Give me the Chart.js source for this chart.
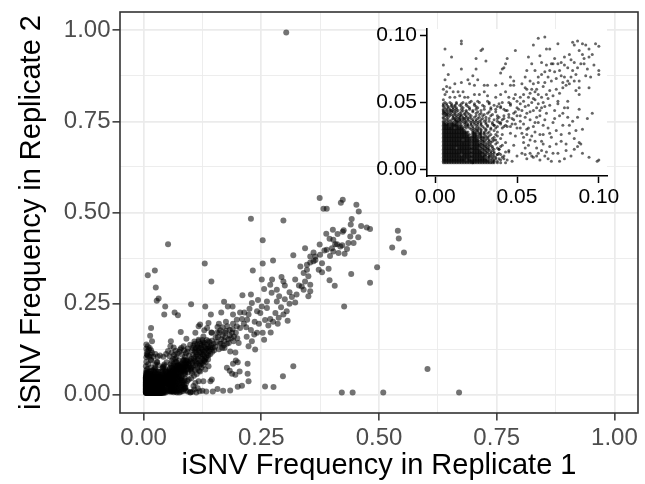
<!DOCTYPE html>
<html><head><meta charset="utf-8">
<script src="https://cdn.jsdelivr.net/npm/chart.js@4.4.1/dist/chart.umd.min.js"></script>
<style>
html,body{margin:0;padding:0;background:#fff;}
#wrap{position:relative;width:645px;height:484px;overflow:hidden;}
#main{position:absolute;left:0;top:0;}
#inset{position:absolute;left:340px;top:15px;}
</style></head><body>
<div id="wrap"><canvas id="main" width="645" height="484"></canvas><canvas id="inset" width="300" height="200"></canvas></div>
<script>
// ---------------- data ----------------
const xTitle = 'iSNV Frequency in Replicate 1';
const yTitle = 'iSNV Frequency in Replicate 2';
const mainTicks = [0, 0.25, 0.5, 0.75, 1];
const mainTickLabels = ['0.00', '0.25', '0.50', '0.75', '1.00'];
const mainMinorTicks = [0.125, 0.375, 0.625, 0.875];
const insetTicks = [0, 0.05, 0.1];
const insetTickLabels = ['0.00', '0.05', '0.10'];

// dense core near the origin: one replicate-2 value per row, replicate-1 values of that row
const coreRep2 = [0.005,0.006,0.007,0.008,0.009,0.010,0.011,0.012,0.013,0.014,0.015,0.016,0.017,0.018,0.019,0.020,0.021,0.022,0.023,0.024,0.025,0.026,0.027,0.028,0.029,0.030,0.031,0.032,0.033,0.034,0.035,0.036,0.037,0.038];
const coreRep1 = [
 [0.005,0.006,0.007,0.008,0.009,0.010,0.011,0.012,0.013,0.014,0.015,0.016,0.017,0.018,0.019,0.020,0.021,0.022,0.023],
 [0.005,0.006,0.007,0.008,0.009,0.010,0.011,0.012,0.013,0.014,0.015,0.016,0.017,0.018,0.019,0.020,0.021,0.022],
 [0.005,0.006,0.007,0.008,0.009,0.010,0.011,0.012,0.013,0.014,0.015,0.016,0.017,0.018,0.020,0.021,0.022],
 [0.005,0.006,0.007,0.008,0.009,0.010,0.011,0.012,0.013,0.014,0.015,0.016,0.017,0.018,0.019,0.020,0.021],
 [0.005,0.006,0.007,0.008,0.009,0.010,0.011,0.012,0.013,0.014,0.015,0.016,0.017,0.018,0.019,0.020,0.021,0.022],
 [0.005,0.006,0.007,0.008,0.009,0.010,0.011,0.012,0.013,0.014,0.015,0.016,0.017,0.018,0.019,0.020,0.021,0.022],
 [0.005,0.006,0.007,0.008,0.009,0.010,0.011,0.012,0.013,0.014,0.015,0.017,0.018,0.019,0.020,0.021],
 [0.005,0.006,0.007,0.008,0.009,0.010,0.011,0.012,0.013,0.014,0.015,0.016,0.017,0.018,0.019,0.020,0.021,0.022],
 [0.005,0.006,0.007,0.008,0.009,0.010,0.011,0.012,0.013,0.014,0.015,0.016,0.017,0.018,0.019,0.020,0.021,0.022],
 [0.005,0.006,0.007,0.008,0.009,0.010,0.011,0.012,0.013,0.014,0.015,0.016,0.017,0.018,0.019,0.020,0.021],
 [0.005,0.006,0.007,0.008,0.009,0.010,0.011,0.012,0.013,0.014,0.015,0.016,0.017,0.018,0.019,0.020,0.021,0.022],
 [0.005,0.006,0.007,0.008,0.009,0.010,0.011,0.012,0.014,0.015,0.016,0.017,0.018,0.019,0.020,0.021,0.022],
 [0.005,0.006,0.007,0.008,0.009,0.010,0.011,0.012,0.013,0.014,0.015,0.016,0.017,0.018,0.019,0.020,0.021],
 [0.005,0.006,0.007,0.008,0.009,0.010,0.011,0.012,0.013,0.014,0.015,0.016,0.017,0.018,0.019,0.020,0.021,0.022],
 [0.005,0.006,0.007,0.008,0.009,0.010,0.011,0.012,0.013,0.014,0.015,0.016,0.017,0.018,0.019,0.020,0.021],
 [0.005,0.006,0.007,0.008,0.009,0.010,0.011,0.012,0.013,0.014,0.015,0.016,0.017,0.018,0.019,0.020,0.021,0.022],
 [0.005,0.006,0.007,0.008,0.009,0.010,0.011,0.012,0.013,0.014,0.015,0.016,0.017,0.018,0.019,0.020,0.021],
 [0.005,0.006,0.007,0.008,0.009,0.010,0.011,0.012,0.013,0.014,0.015,0.016,0.018,0.019,0.020,0.021,0.022],
 [0.005,0.006,0.007,0.008,0.009,0.010,0.011,0.012,0.013,0.014,0.015,0.016,0.017,0.018,0.019,0.020,0.021],
 [0.005,0.006,0.007,0.008,0.009,0.010,0.011,0.012,0.013,0.014,0.015,0.016,0.017,0.018,0.019,0.020,0.021,0.022],
 [0.005,0.006,0.007,0.008,0.009,0.010,0.011,0.012,0.013,0.014,0.015,0.016,0.017,0.018,0.019,0.020],
 [0.005,0.006,0.007,0.008,0.009,0.010,0.011,0.012,0.013,0.014,0.015,0.016,0.017,0.018,0.019,0.020,0.021],
 [0.005,0.006,0.007,0.008,0.009,0.010,0.011,0.012,0.013,0.014,0.015,0.016,0.017,0.018,0.019],
 [0.005,0.006,0.007,0.008,0.009,0.010,0.011,0.012,0.013,0.014,0.015,0.016,0.017,0.018,0.019,0.020],
 [0.005,0.006,0.007,0.008,0.009,0.010,0.011,0.012,0.013,0.014,0.015,0.016,0.017,0.018],
 [0.005,0.006,0.007,0.008,0.009,0.010,0.011,0.012,0.013,0.014,0.015,0.016,0.017],
 [0.005,0.006,0.007,0.008,0.009,0.010,0.011,0.013,0.014,0.015,0.016],
 [0.005,0.006,0.007,0.008,0.009,0.010,0.011,0.012,0.013,0.014,0.015],
 [0.005,0.006,0.007,0.008,0.010,0.011,0.012,0.013,0.014],
 [0.005,0.006,0.007,0.008,0.009,0.010,0.011,0.012,0.013],
 [0.005,0.006,0.008,0.010,0.011],
 [0.005,0.007,0.009,0.012],
 [0.006,0.008,0.010],
 [0.005,0.007,0.011]
];

// the thinner zone right of the core
const nearRep2 = [0.005,0.006,0.007,0.008,0.009,0.010,0.011,0.012,0.013,0.014,0.015,0.016,0.017,0.018,0.019,0.020,0.021,0.022,0.023,0.024,0.025,0.026,0.027,0.028,0.029,0.030];
const nearRep1 = [
 [0.024,0.026,0.027,0.029,0.031,0.033,0.035,0.038],
 [0.023,0.025,0.028,0.030,0.032,0.036],
 [0.024,0.026,0.029,0.031,0.034,0.040],
 [0.023,0.025,0.027,0.030,0.033,0.037],
 [0.024,0.026,0.028,0.032,0.035],
 [0.023,0.025,0.027,0.029,0.031,0.034,0.042],
 [0.024,0.026,0.030,0.033,0.038],
 [0.023,0.025,0.027,0.029,0.032,0.036],
 [0.024,0.026,0.028,0.031,0.034],
 [0.023,0.025,0.027,0.030,0.033,0.045],
 [0.024,0.026,0.029,0.032,0.036],
 [0.023,0.025,0.028,0.031,0.035],
 [0.024,0.027,0.030,0.033,0.040],
 [0.023,0.026,0.029,0.032],
 [0.024,0.025,0.028,0.031,0.037],
 [0.023,0.026,0.030,0.034],
 [0.024,0.027,0.029,0.033],
 [0.023,0.025,0.028,0.031,0.036],
 [0.024,0.026,0.030,0.035],
 [0.023,0.027,0.029,0.032],
 [0.024,0.026,0.031,0.038],
 [0.023,0.025,0.028,0.034],
 [0.024,0.027,0.030],
 [0.023,0.026,0.033],
 [0.025,0.028,0.036],
 [0.024,0.031]
];
const fillRep2 = [0.005,0.006,0.007,0.008,0.009,0.010,0.011,0.012,0.013,0.014,0.015,0.016,0.017,0.018,0.019,0.020,0.021,0.022,0.023,0.024,0.025,0.026,0.027,0.028,0.029,0.030];
const fillRep1 = [
 [0.023,0.025,0.028,0.030,0.032,0.034,0.036,0.040,0.043],
 [0.024,0.026,0.027,0.029,0.031,0.033,0.035,0.038],
 [0.023,0.025,0.027,0.028,0.030,0.032,0.036,0.044],
 [0.024,0.026,0.028,0.029,0.031,0.035,0.039],
 [0.023,0.025,0.027,0.029,0.030,0.033,0.037,0.041],
 [0.024,0.026,0.028,0.030,0.033,0.036],
 [0.023,0.025,0.027,0.028,0.031,0.035,0.040],
 [0.024,0.026,0.028,0.030,0.034,0.039],
 [0.023,0.025,0.027,0.029,0.032,0.036,0.043],
 [0.024,0.026,0.028,0.031,0.035],
 [0.023,0.025,0.027,0.030,0.033,0.039],
 [0.024,0.026,0.029,0.032,0.038],
 [0.023,0.025,0.026,0.028,0.031,0.035],
 [0.024,0.025,0.027,0.030,0.034,0.041],
 [0.023,0.026,0.027,0.029,0.033],
 [0.024,0.025,0.028,0.032,0.038],
 [0.023,0.025,0.026,0.030,0.035],
 [0.024,0.026,0.029,0.033],
 [0.023,0.025,0.028,0.032,0.040],
 [0.024,0.025,0.028,0.030,0.036],
 [0.023,0.025,0.028,0.033],
 [0.024,0.027,0.030,0.037],
 [0.023,0.025,0.028,0.032],
 [0.024,0.028,0.030],
 [0.023,0.026,0.031],
 [0.022,0.026,0.028,0.034]
];

// the band above the core
const upperRep2 = [0.031,0.032,0.033,0.034,0.035,0.036,0.037,0.038,0.039,0.040,0.041,0.042,0.043,0.044,0.045,0.046,0.047,0.048,0.049,0.050];
const upperRep1 = [
 [0.019,0.021,0.027,0.034,0.041],
 [0.020,0.023,0.029,0.038,0.046],
 [0.019,0.022,0.025,0.032,0.043],
 [0.020,0.024,0.028,0.035,0.049],
 [0.013,0.016,0.019,0.022,0.026,0.031,0.040],
 [0.014,0.017,0.021,0.025,0.030,0.044],
 [0.013,0.015,0.018,0.023,0.028,0.036],
 [0.014,0.017,0.020,0.026,0.033,0.047],
 [0.005,0.008,0.011,0.015,0.019,0.024,0.039],
 [0.006,0.009,0.013,0.016,0.022,0.029,0.042],
 [0.005,0.007,0.010,0.014,0.018,0.027,0.035],
 [0.006,0.009,0.012,0.020,0.025,0.032,0.048],
 [0.005,0.008,0.011,0.016,0.023,0.037],
 [0.007,0.010,0.014,0.019,0.028,0.044],
 [0.005,0.009,0.013,0.021,0.034],
 [0.006,0.011,0.017,0.026,0.040,0.050],
 [0.008,0.012,0.020,0.030],
 [0.005,0.010,0.015,0.024,0.036,0.046],
 [0.007,0.013,0.019,0.033],
 [0.009,0.017,0.027,0.041]
];
const upperFillRep1 = [
 [0.017,0.023,0.025,0.030,0.037],
 [0.016,0.018,0.026,0.032,0.042],
 [0.016,0.020,0.028,0.036],
 [0.015,0.018,0.022,0.026,0.031,0.040],
 [0.014,0.018,0.024,0.028,0.035],
 [0.013,0.015,0.019,0.023,0.027,0.033,0.038],
 [0.012,0.016,0.020,0.025,0.031,0.041],
 [0.012,0.015,0.018,0.022,0.029,0.038],
 [0.013,0.017,0.021,0.027,0.031,0.045],
 [0.007,0.011,0.015,0.019,0.025,0.034],
 [0.008,0.012,0.016,0.021,0.030],
 [0.005,0.007,0.015,0.018,0.028],
 [0.006,0.010,0.013,0.019,0.026,0.033],
 [0.005,0.009,0.012,0.017,0.023],
 [0.007,0.011,0.016,0.025,0.030,0.042],
 [0.008,0.013,0.021,0.034],
 [0.005,0.010,0.016,0.025,0.038],
 [0.007,0.012,0.019,0.029],
 [0.005,0.010,0.016,0.024,0.039],
 [0.006,0.013,0.021,0.033,0.045]
];

// single points below 0.10 in both replicates [replicate 1, replicate 2]
const lowPairs = [
 [0.016,0.096],[0.016,0.094],[0.006,0.090],[0.028,0.089],[0.029,0.090],[0.025,0.083],[0.031,0.081],[0.044,0.083],[0.043,0.079],[0.042,0.076],
 [0.041,0.075],[0.040,0.072],[0.049,0.089],[0.016,0.075],[0.025,0.075],[0.023,0.070],[0.020,0.067],[0.016,0.065],[0.012,0.064],[0.021,0.064],
 [0.026,0.067],[0.024,0.063],[0.030,0.063],[0.032,0.063],[0.037,0.063],[0.046,0.069],[0.048,0.066],[0.048,0.063],[0.041,0.064],[0.046,0.063],
 [0.011,0.058],[0.014,0.058],[0.017,0.058],[0.009,0.054],[0.012,0.054],[0.015,0.055],[0.018,0.054],[0.020,0.054],[0.024,0.056],[0.027,0.056],
 [0.030,0.058],[0.032,0.055],[0.037,0.054],[0.040,0.056],[0.043,0.058],[0.045,0.054],[0.049,0.056],[0.048,0.053],[0.050,0.051],[0.022,0.051],
 [0.026,0.051],[0.032,0.051],[0.005,0.052],[0.006,0.056],[0.005,0.060],[0.007,0.062],[0.006,0.067],[0.008,0.071],[0.005,0.078],[0.010,0.084],
 [0.007,0.058],[0.009,0.061],
 [0.063,0.098],[0.067,0.099],[0.060,0.093],[0.068,0.090],[0.070,0.090],[0.075,0.094],[0.084,0.095],[0.085,0.093],[0.087,0.096],[0.090,0.094],
 [0.092,0.093],[0.094,0.090],[0.098,0.094],[0.100,0.092],[0.057,0.084],[0.064,0.085],[0.065,0.080],[0.059,0.079],[0.068,0.078],[0.071,0.079],
 [0.073,0.083],[0.088,0.089],[0.090,0.086],[0.091,0.083],[0.094,0.084],[0.089,0.079],[0.085,0.080],[0.082,0.086],[0.097,0.078],[0.100,0.074],
 [0.072,0.079],[0.075,0.079],[0.077,0.080],[0.079,0.078],[0.081,0.076],[0.076,0.074],[0.073,0.073],[0.070,0.074],[0.067,0.073],[0.065,0.071],
 [0.063,0.069],[0.061,0.074],[0.056,0.074],[0.055,0.069],[0.058,0.066],[0.060,0.064],[0.063,0.065],[0.077,0.070],[0.079,0.069],[0.081,0.066],
 [0.078,0.065],[0.080,0.063],[0.082,0.064],[0.086,0.071],[0.088,0.066],[0.095,0.069],[0.100,0.071],[0.088,0.061],[0.086,0.059],[0.088,0.056],
 [0.094,0.061],[0.053,0.064],[0.056,0.060],[0.059,0.060],[0.061,0.058],[0.063,0.056],[0.065,0.054],[0.054,0.056],[0.057,0.054],[0.052,0.054],
 [0.060,0.053],[0.068,0.056],[0.070,0.059],[0.075,0.051],[0.081,0.051],
 [0.052,0.049],[0.055,0.047],[0.059,0.050],[0.063,0.049],[0.065,0.046],[0.067,0.047],[0.053,0.044],[0.056,0.042],[0.060,0.044],[0.052,0.040],
 [0.055,0.039],[0.058,0.037],[0.062,0.039],[0.063,0.035],[0.064,0.040],[0.054,0.034],[0.057,0.031],[0.056,0.030],[0.052,0.031],[0.060,0.032],
 [0.053,0.027],[0.056,0.026],[0.059,0.025],[0.058,0.022],[0.054,0.020],[0.055,0.016],[0.053,0.012],[0.055,0.011],[0.058,0.012],[0.059,0.010],
 [0.060,0.009],[0.061,0.021],[0.065,0.021],[0.066,0.019],[0.063,0.012],[0.068,0.013],[0.069,0.031],[0.074,0.029],[0.064,0.026],[0.066,0.026],
 [0.075,0.049],[0.079,0.046],[0.081,0.046],[0.088,0.045],[0.087,0.039],[0.093,0.038],[0.077,0.021],[0.075,0.012],[0.080,0.014],[0.088,0.020],
 [0.089,0.019],[0.087,0.017],[0.094,0.009],[0.100,0.007],[0.099,0.006],
 [0.037,0.045],[0.040,0.047],[0.043,0.044],[0.046,0.049],[0.049,0.043],[0.038,0.040],[0.042,0.038],[0.045,0.041],[0.048,0.037],[0.050,0.040],
 [0.036,0.033],[0.039,0.035],[0.044,0.032],[0.047,0.034],[0.050,0.031],[0.038,0.028],[0.041,0.026],[0.046,0.027],[0.049,0.025],[0.037,0.022],
 [0.043,0.020],[0.048,0.018],[0.039,0.015],[0.045,0.013],[0.050,0.010],[0.042,0.008],[0.047,0.006],[0.038,0.011],
 [0.051,0.045],[0.054,0.051],[0.057,0.048],[0.061,0.052],[0.062,0.046],[0.066,0.050],[0.069,0.053],[0.070,0.048],[0.072,0.055],[0.074,0.060],
 [0.076,0.057],[0.078,0.061],[0.071,0.066],[0.074,0.068],[0.083,0.069],[0.084,0.074],[0.087,0.076],[0.091,0.079],[0.093,0.075],[0.096,0.086],
 [0.083,0.082],[0.079,0.084],[0.069,0.069],[0.066,0.062],[0.062,0.060],[0.058,0.057],[0.055,0.061],[0.067,0.065],[0.085,0.066],[0.092,0.070],
 [0.052,0.036],[0.054,0.024],[0.057,0.018],[0.056,0.008],[0.062,0.016],[0.064,0.007],[0.067,0.010],[0.070,0.017],[0.071,0.024],[0.072,0.035],
 [0.076,0.040],[0.078,0.033],[0.082,0.027],[0.084,0.036],[0.068,0.042],[0.073,0.044],[0.061,0.028],[0.058,0.043],[0.083,0.010],[0.090,0.030],
 [0.096,0.042],[0.071,0.006],[0.079,0.008],[0.085,0.023],
 [0.062,0.010],[0.065,0.014],[0.069,0.008],[0.072,0.012],[0.074,0.019],[0.070,0.027],[0.066,0.033],[0.073,0.038],[0.077,0.026],[0.080,0.019],
 [0.082,0.033],[0.085,0.015],[0.078,0.042],[0.067,0.037],[0.061,0.035],[0.064,0.044],[0.086,0.029],[0.090,0.012],[0.076,0.006],[0.081,0.039]
];

// points above 0.10 in at least one replicate [replicate 1, replicate 2]
const highPairs = [
 [0.303,0.994],
 [0.228,0.483],[0.297,0.478],[0.052,0.413],[0.253,0.424],[0.318,0.383],[0.275,0.368],[0.253,0.360],[0.130,0.360],[0.232,0.341],[0.024,0.341],
 [0.009,0.328],[0.144,0.311],[0.026,0.294],[0.251,0.316],[0.273,0.316],[0.293,0.323],[0.297,0.311],[0.322,0.316],[0.256,0.290],[0.269,0.302],
 [0.283,0.288],[0.210,0.273],[0.228,0.275],[0.032,0.264],[0.310,0.281],
 [0.374,0.540],[0.423,0.535],[0.419,0.527],[0.452,0.521],[0.457,0.503],[0.382,0.510],[0.389,0.510],[0.442,0.482],[0.540,0.450],[0.542,0.429],
 [0.528,0.404],[0.553,0.390],[0.496,0.350],[0.440,0.467],[0.462,0.463],[0.474,0.459],[0.481,0.455],[0.425,0.451],[0.423,0.447],[0.402,0.453],
 [0.412,0.441],[0.388,0.442],[0.446,0.448],[0.439,0.434],[0.456,0.432],[0.446,0.416],[0.435,0.416],[0.422,0.410],[0.411,0.413],[0.403,0.425],
 [0.395,0.428],[0.418,0.407],[0.432,0.400],[0.427,0.387],[0.414,0.389],[0.407,0.413],[0.400,0.402],[0.389,0.398],[0.396,0.381],[0.403,0.393],
 [0.374,0.412],[0.384,0.396],[0.375,0.384],[0.365,0.379],[0.354,0.379],[0.343,0.402],[0.361,0.390],[0.365,0.370],[0.361,0.366],[0.354,0.363],
 [0.347,0.357],[0.379,0.361],[0.372,0.343],[0.393,0.346],[0.379,0.336],[0.347,0.343],[0.340,0.334],[0.350,0.325],[0.343,0.311],[0.354,0.302],
 [0.336,0.297],[0.350,0.270],[0.395,0.314],[0.406,0.299],[0.441,0.331],[0.481,0.307],[0.333,0.352],[0.340,0.288],[0.354,0.284],
 [0.426,0.242],[0.603,0.071],[0.421,0.006],[0.444,0.006],[0.509,0.006],[0.670,0.006],
 [0.028,0.258],[0.046,0.242],[0.101,0.248],[0.131,0.242],[0.044,0.220],[0.066,0.226],[0.073,0.218],[0.143,0.220],[0.165,0.226],[0.171,0.255],
 [0.179,0.242],[0.189,0.242],[0.190,0.220],[0.205,0.226],[0.214,0.226],[0.223,0.220],[0.209,0.208],[0.198,0.206],[0.220,0.206],[0.230,0.252],
 [0.251,0.242],[0.262,0.256],[0.283,0.256],[0.262,0.238],[0.280,0.224],[0.297,0.220],[0.304,0.229],[0.322,0.253],[0.306,0.203],[0.287,0.211],
 [0.269,0.208],[0.248,0.224],[0.241,0.229],
 [0.016,0.183],[0.014,0.162],[0.018,0.147],[0.079,0.172],[0.091,0.154],[0.117,0.188],[0.129,0.177],[0.138,0.197],[0.144,0.171],[0.157,0.186],
 [0.161,0.171],[0.173,0.170],[0.178,0.188],[0.188,0.170],[0.205,0.183],[0.219,0.159],[0.230,0.147],[0.237,0.124],[0.223,0.133],[0.202,0.142],
 [0.191,0.147],[0.184,0.119],[0.195,0.116],[0.241,0.170],[0.253,0.170],[0.270,0.171],[0.256,0.151],
 [0.196,0.094],[0.200,0.089],[0.190,0.085],[0.177,0.074],[0.183,0.066],[0.188,0.058],[0.195,0.055],[0.204,0.064],[0.221,0.085],[0.221,0.058],
 [0.223,0.037],[0.209,0.025],[0.200,0.022],[0.184,0.012],[0.169,0.011],[0.157,0.016],[0.147,0.009],[0.133,0.009],[0.125,0.011],[0.258,0.023],
 [0.276,0.021],[0.296,0.051],[0.318,0.078],
 [0.129,0.092],[0.138,0.078],[0.131,0.069],[0.145,0.042],[0.142,0.037],[0.127,0.037],[0.117,0.037],[0.120,0.064],[0.117,0.087],
 [0.008,0.110],[0.011,0.124],[0.058,0.147],[0.057,0.133],[0.078,0.124],[0.085,0.133],[0.099,0.137],[0.110,0.124],
 [0.110,0.170],[0.117,0.151],[0.127,0.160],[0.138,0.147],[0.145,0.170],[0.120,0.193],[0.135,0.183],
 [0.160,0.195],[0.168,0.185],[0.175,0.200],[0.183,0.178],[0.190,0.195],[0.198,0.188],[0.165,0.140],[0.172,0.128],
 [0.006,0.103],[0.009,0.107],[0.012,0.104],[0.007,0.112],[0.015,0.109],[0.008,0.118],[0.018,0.115],[0.006,0.126],[0.013,0.128],[0.009,0.133],
 [0.021,0.104],[0.025,0.112],[0.006,0.138],[0.016,0.122],[0.030,0.105],
 [0.035,0.108],[0.042,0.104],[0.048,0.112],[0.055,0.106],[0.060,0.115],[0.065,0.109],[0.068,0.121],[0.072,0.113],[0.076,0.118],[0.082,0.110],
 [0.086,0.122],[0.090,0.114],[0.094,0.127],[0.097,0.108],[0.064,0.130],[0.088,0.104],[0.093,0.118],[0.070,0.104],[0.080,0.128],[0.052,0.120],
 [0.101,0.045],[0.103,0.060],[0.102,0.075],[0.104,0.088],[0.101,0.098],[0.105,0.110],[0.103,0.122],[0.106,0.135],[0.108,0.146],[0.107,0.052],
 [0.109,0.068],[0.110,0.080],[0.108,0.094],[0.110,0.104],[0.109,0.118],[0.111,0.128],
 [0.113,0.057],[0.114,0.072],[0.112,0.086],[0.115,0.098],[0.113,0.110],[0.116,0.122],[0.114,0.138],[0.117,0.147],[0.118,0.066],[0.119,0.080],
 [0.120,0.092],[0.121,0.104],[0.119,0.115],[0.122,0.128],[0.120,0.140],[0.123,0.075],[0.124,0.088],[0.125,0.099],[0.124,0.112],[0.125,0.124],
 [0.123,0.135],[0.125,0.150],
 [0.127,0.082],[0.128,0.095],[0.129,0.106],[0.128,0.118],[0.130,0.131],[0.129,0.143],[0.132,0.090],[0.133,0.102],[0.134,0.114],[0.133,0.126],
 [0.135,0.138],[0.134,0.150],[0.137,0.097],[0.138,0.108],[0.139,0.120],[0.138,0.132],[0.140,0.144],[0.142,0.112],[0.143,0.124],[0.144,0.136],
 [0.146,0.118],[0.147,0.130],[0.149,0.140],[0.145,0.148],
 [0.102,0.066],[0.105,0.080],[0.107,0.100],[0.111,0.092],[0.112,0.116],[0.116,0.106],[0.118,0.128],[0.121,0.084],[0.122,0.118],[0.126,0.110],
 [0.127,0.138],[0.131,0.122],[0.136,0.126],[0.141,0.130],[0.104,0.128],[0.109,0.140],[0.115,0.132],[0.126,0.145],[0.131,0.098],[0.136,0.110],
 [0.104,0.008],[0.108,0.015],[0.112,0.006],[0.106,0.024],[0.115,0.018],[0.110,0.032],[0.119,0.010],
 [0.152,0.132],[0.155,0.145],[0.158,0.158],[0.162,0.140],[0.165,0.152],[0.168,0.163],[0.171,0.148],[0.174,0.158],[0.177,0.140],[0.180,0.152],
 [0.183,0.163],[0.186,0.155],[0.189,0.180],[0.192,0.160],[0.150,0.122],[0.156,0.170],[0.163,0.177],[0.170,0.135],[0.167,0.128],[0.160,0.125],
 [0.153,0.157],[0.175,0.175],[0.181,0.142],[0.196,0.170],[0.199,0.155],
 [0.236,0.200],[0.245,0.195],[0.258,0.205],[0.265,0.190],[0.275,0.200],[0.285,0.195],[0.292,0.240],[0.300,0.262],[0.310,0.250],[0.315,0.268],
 [0.325,0.275],[0.218,0.185],[0.228,0.178],[0.235,0.165],[0.213,0.195],[0.225,0.236],[0.243,0.260],[0.272,0.280],[0.288,0.270],[0.300,0.300],
 [0.330,0.300]
];

// ---------------- assembling the points ----------------
function rowsToPoints(rep2Rows, rep1Rows) {
  const pts = [];
  rep2Rows.forEach((y, i) => rep1Rows[i].forEach(x => pts.push({x: x, y: y})));
  return pts;
}
const allPoints = [].concat(
  rowsToPoints(coreRep2, coreRep1),
  rowsToPoints(nearRep2, nearRep1),
  rowsToPoints(fillRep2, fillRep1),
  rowsToPoints(upperRep2, upperRep1),
  rowsToPoints(upperRep2, upperFillRep1),
  lowPairs.map(p => ({x: p[0], y: p[1]})),
  highPairs.map(p => ({x: p[0], y: p[1]}))
);
const insetMax = insetTicks[insetTicks.length - 1];
const insetPoints = allPoints.filter(p => p.x <= insetMax + 1e-9 && p.y <= insetMax + 1e-9);

// ---------------- drawing ----------------
Chart.defaults.font.family = "'Liberation Sans', Arial, Helvetica, sans-serif";
const mainAllTicks = mainTicks.concat(mainMinorTicks).sort((a, b) => a - b);
const isMajor = v => mainTicks.some(t => Math.abs(t - v) < 1e-9);
const mainLabel = v => { const i = mainTicks.findIndex(t => Math.abs(t - v) < 1e-9); return i >= 0 ? mainTickLabels[i] : ''; };
const insetLabel = v => { const i = insetTicks.findIndex(t => Math.abs(t - v) < 1e-9); return i >= 0 ? insetTickLabels[i] : ''; };
function zeroPad(s) { s.paddingTop = 0; s.paddingBottom = 0; s.paddingLeft = 0; s.paddingRight = 0; }

const panelBorder = {
  id: 'panelBorder',
  afterDatasetsDraw(chart) {
    const a = chart.chartArea, ctx = chart.ctx;
    ctx.save();
    ctx.strokeStyle = '#333333';
    ctx.lineWidth = 1.6;
    ctx.strokeRect(a.left, a.top, a.right - a.left, a.bottom - a.top);
    ctx.restore();
  }
};
const whitePanel = {
  id: 'whitePanel',
  beforeDraw(chart) {
    const a = chart.chartArea, ctx = chart.ctx;
    ctx.save();
    ctx.fillStyle = '#ffffff';
    ctx.fillRect(a.left, a.top, a.right - a.left, a.bottom - a.top);
    ctx.restore();
  }
};

function mainAxis(titleText, isX) {
  return {
    type: 'linear', min: -0.05, max: 1.05,
    afterBuildTicks: s => { s.ticks = mainAllTicks.map(v => ({value: v})); },
    afterFit: s => { zeroPad(s); if (isX) s.height = 71; else s.width = 120; },
    ticks: {autoSkip: false, maxRotation: 0, padding: isX ? 3 : 2, color: '#4d4d4d',
            font: {size: 24}, callback: v => mainLabel(v)},
    grid: {
      color: '#ebebeb',
      lineWidth: c => (c.tick && isMajor(c.tick.value)) ? 1.7 : 0.9,
      tickLength: 7.5,
      tickWidth: 1.5,
      tickColor: c => (c.tick && isMajor(c.tick.value)) ? '#333333' : 'rgba(0,0,0,0)'
    },
    border: {display: false},
    title: {display: true, text: titleText, color: '#000000', font: {size: 29},
            padding: isX ? {top: 0, bottom: 1} : {top: 15, bottom: 0}}
  };
}

new Chart(document.getElementById('main'), {
  type: 'scatter',
  data: {datasets: [{data: allPoints, pointRadius: 3, pointHoverRadius: 3,
    pointBackgroundColor: 'rgba(0,0,0,0.55)', pointBorderWidth: 0, pointBorderColor: 'rgba(0,0,0,0)'}]},
  options: {
    responsive: false, animation: false, events: [],
    layout: {padding: {top: 12, right: 7, left: 0, bottom: 0}},
    plugins: {legend: {display: false}, tooltip: {enabled: false}},
    scales: {x: mainAxis(xTitle, true), y: mainAxis(yTitle, false)}
  },
  plugins: [panelBorder]
});

function insetAxis(isX) {
  return {
    type: 'linear', min: -0.005, max: 0.105,
    afterBuildTicks: s => { s.ticks = insetTicks.map(v => ({value: v})); },
    afterFit: s => { zeroPad(s); if (isX) s.height = 39; else s.width = 87; },
    ticks: {autoSkip: false, maxRotation: 0, padding: isX ? 2 : 3, color: '#000000',
            font: {size: 21}, callback: v => insetLabel(v)},
    grid: {drawOnChartArea: false, drawTicks: true, tickLength: 7, tickWidth: 1.5, tickColor: '#000000'},
    border: {display: true, color: '#000000', width: 1.6}
  };
}

new Chart(document.getElementById('inset'), {
  type: 'scatter',
  data: {datasets: [{data: insetPoints, pointRadius: 1.5, pointHoverRadius: 1.5,
    pointBackgroundColor: 'rgba(0,0,0,0.6)', pointBorderWidth: 0, pointBorderColor: 'rgba(0,0,0,0)'}]},
  options: {
    responsive: false, animation: false, events: [],
    layout: {padding: {top: 14, right: 33, left: 0, bottom: 0}},
    plugins: {legend: {display: false}, tooltip: {enabled: false}},
    scales: {x: insetAxis(true), y: insetAxis(false)}
  },
  plugins: [whitePanel]
});
</script>
</body></html>
